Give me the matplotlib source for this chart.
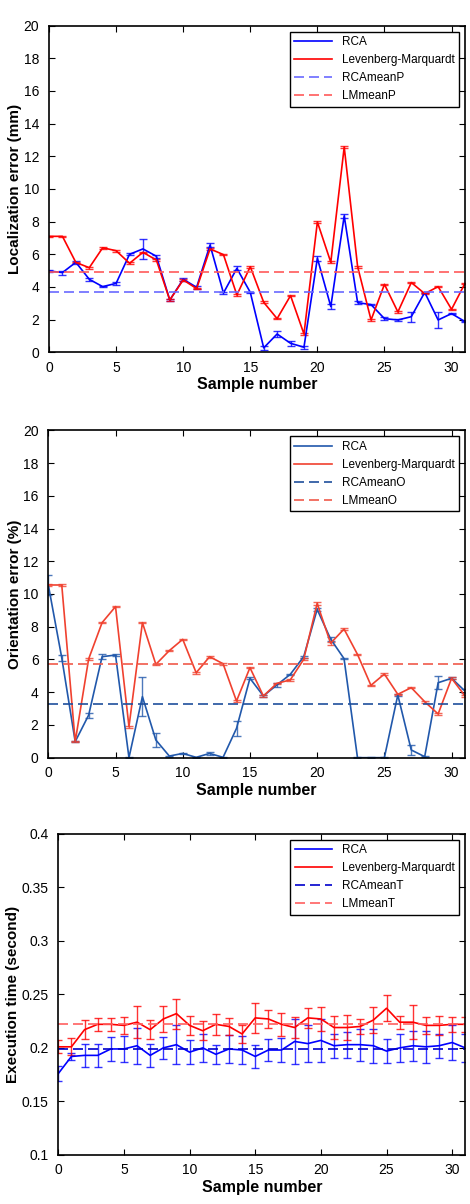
import matplotlib
matplotlib.use('Agg')
import matplotlib.pyplot as plt
import numpy as np

plt.rcParams['font.family'] = ['Liberation Sans', 'DejaVu Sans']

samples = list(range(32))

# localization error (mm)
rca_pos = [4.98, 4.88, 5.51, 4.47, 4.02, 4.22, 6.0, 6.33, 5.88, 3.2, 4.47, 3.98, 6.57, 3.63, 5.14, 3.67,
           0.27, 1.12, 0.55, 0.31, 5.76, 2.8, 8.35, 3.04, 2.92, 2.06, 1.98, 2.18, 3.67, 1.98, 2.37, 1.88]
rca_pos_err = [0.08, 0.12, 0.08, 0.1, 0.05, 0.1, 0.05, 0.6, 0.1, 0.05, 0.08, 0.1, 0.12, 0.05, 0.12, 0.05,
               0.1, 0.2, 0.15, 0.1, 0.15, 0.15, 0.12, 0.1, 0.05, 0.08, 0.05, 0.3, 0.05, 0.48, 0.05, 0.05]
lm_pos = [7.1, 7.1, 5.5, 5.18, 6.4, 6.22, 5.45, 6.12, 5.65, 3.2, 4.43, 3.9, 6.33, 5.98, 3.51, 5.24,
          3.06, 2.06, 3.47, 1.12, 7.98, 5.51, 12.57, 5.24, 1.98, 4.16, 2.47, 4.27, 3.59, 4.02, 2.63, 4.22]
lm_pos_err = [0.05] * 32
rca_mean_p = 3.69
lm_mean_p = 4.9

# orientation error (%)
rca_ori = [10.55, 6.1, 0.98, 2.6, 6.17, 6.27, 0.0, 3.73, 1.08, 0.1, 0.26, 0.02, 0.26, 0.02, 1.79, 4.85,
           3.77, 4.44, 5.09, 6.17, 9.06, 7.25, 6.05, 0.0, 0.0, 0.0, 3.83, 0.47, 0.06, 4.58, 4.85, 4.07]
rca_ori_err = [0.6, 0.2, 0.05, 0.15, 0.15, 0.05, 0.03, 1.2, 0.4, 0.03, 0.05, 0.03, 0.08, 0.03, 0.45, 0.05,
               0.05, 0.15, 0.05, 0.05, 0.1, 0.1, 0.05, 0.03, 0.03, 0.03, 0.05, 0.3, 0.03, 0.4, 0.05, 0.1]
lm_ori = [10.55, 10.55, 0.98, 6.03, 8.25, 9.23, 1.89, 8.25, 5.7, 6.54, 7.23, 5.19, 6.17, 5.74, 3.46, 5.5,
          3.77, 4.54, 4.75, 6.01, 9.43, 6.99, 7.86, 6.31, 4.42, 5.11, 3.87, 4.28, 3.42, 2.67, 4.85, 3.77]
lm_ori_err = [0.05] * 20 + [0.1, 0.1] + [0.05] * 10
rca_mean_o = 3.26
lm_mean_o = 5.7

# execution time (second)
rca_time = [0.176, 0.192, 0.193, 0.193, 0.199, 0.199, 0.202, 0.193, 0.200, 0.203, 0.196, 0.200, 0.194, 0.199, 0.198, 0.192,
            0.198, 0.198, 0.206, 0.204, 0.207, 0.202, 0.203, 0.203, 0.202, 0.197, 0.200, 0.202, 0.201, 0.202, 0.205, 0.200]
rca_time_err = [0.007, 0.003, 0.011, 0.011, 0.011, 0.012, 0.017, 0.011, 0.010, 0.018, 0.011, 0.013, 0.009, 0.013, 0.013, 0.011,
                0.010, 0.011, 0.021, 0.017, 0.020, 0.011, 0.012, 0.015, 0.016, 0.011, 0.013, 0.014, 0.015, 0.011, 0.016, 0.013]
lm_time = [0.201, 0.201, 0.217, 0.222, 0.222, 0.221, 0.224, 0.217, 0.227, 0.232, 0.221, 0.216, 0.222, 0.220, 0.213, 0.228,
           0.227, 0.222, 0.219, 0.228, 0.227, 0.219, 0.219, 0.220, 0.226, 0.237, 0.224, 0.224, 0.221, 0.221, 0.222, 0.222]
lm_time_err = [0.006, 0.008, 0.009, 0.006, 0.006, 0.008, 0.015, 0.009, 0.012, 0.014, 0.009, 0.009, 0.010, 0.008, 0.008, 0.014,
               0.008, 0.011, 0.010, 0.009, 0.011, 0.011, 0.012, 0.007, 0.012, 0.012, 0.006, 0.016, 0.008, 0.009, 0.007, 0.007]
rca_mean_t = 0.199
lm_mean_t = 0.222


def panel(ax, rca, rca_err, lm, lm_err, rca_mean, lm_mean, names, ylabel, ylim, yticks, ytick_labels, colors):
    c_rca, c_lm, c_rca_mean, c_lm_mean = colors
    ax.errorbar(samples, rca, yerr=rca_err, fmt='none', ecolor=c_rca, elinewidth=1.0, capsize=3, alpha=0.8)
    ax.errorbar(samples, lm, yerr=lm_err, fmt='none', ecolor=c_lm, elinewidth=1.0, capsize=3, alpha=0.8)
    ax.plot(samples, rca, color=c_rca, lw=1.2, label=names[0])
    ax.plot(samples, lm, color=c_lm, lw=1.2, label=names[1])
    ax.axhline(rca_mean, color=c_rca_mean, lw=1.2, dashes=(6, 3), label=names[2])
    ax.axhline(lm_mean, color=c_lm_mean, lw=1.2, dashes=(6, 3), label=names[3])
    ax.set_xlim(0, 31)
    ax.set_ylim(*ylim)
    ax.set_xticks([0, 5, 10, 15, 20, 25, 30])
    ax.set_yticks(yticks)
    ax.set_yticklabels(ytick_labels)
    ax.tick_params(direction='in', top=True, right=True, labelsize=10, length=4, width=0.8)
    ax.tick_params(axis='x', pad=6)
    ax.tick_params(axis='y', pad=7)
    for s in ax.spines.values():
        s.set_linewidth(1.2)
    ax.set_xlabel('Sample number', fontsize=11.5, fontweight='bold', labelpad=2)
    ax.set_ylabel(ylabel, fontsize=11, fontweight='bold', labelpad=1)
    leg = ax.legend(loc='upper right', fontsize=8.5, fancybox=False, framealpha=1,
                    edgecolor='black', handlelength=3.2, borderaxespad=0.5)
    leg.get_frame().set_linewidth(1.0)


fig = plt.figure(figsize=(4.7, 12.04), dpi=100)

ax1 = fig.add_axes([0.1043, 0.7074, 0.8850, 0.2713])
panel(ax1, rca_pos, rca_pos_err, lm_pos, lm_pos_err, rca_mean_p, lm_mean_p,
      ['RCA', 'Levenberg-Marquardt', 'RCAmeanP', 'LMmeanP'],
      'Localization error (mm)', (0, 20), list(range(0, 21, 2)), [str(v) for v in range(0, 21, 2)],
      ('#0000ff', '#ff0000', '#6a6aff', '#ff5a5a'))

ax2 = fig.add_axes([0.1028, 0.3707, 0.8866, 0.2719])
panel(ax2, rca_ori, rca_ori_err, lm_ori, lm_ori_err, rca_mean_o, lm_mean_o,
      ['RCA', 'Levenberg-Marquardt', 'RCAmeanO', 'LMmeanO'],
      'Orientation error (%)', (0, 20), list(range(0, 21, 2)), [str(v) for v in range(0, 21, 2)],
      ('#2158ab', '#f0412f', '#1f4f9c', '#f05a4a'))

t_ticks = [0.1, 0.15, 0.2, 0.25, 0.3, 0.35, 0.4]
ax3 = fig.add_axes([0.1240, 0.0407, 0.8660, 0.2669])
panel(ax3, rca_time, rca_time_err, lm_time, lm_time_err, rca_mean_t, lm_mean_t,
      ['RCA', 'Levenberg-Marquardt', 'RCAmeanT', 'LMmeanT'],
      'Execution time (second)', (0.1, 0.4), t_ticks, ['%g' % v for v in t_ticks],
      ('#0000ff', '#ff0000', '#0000cc', '#ff6060'))

fig.savefig('out.png', dpi=100)
